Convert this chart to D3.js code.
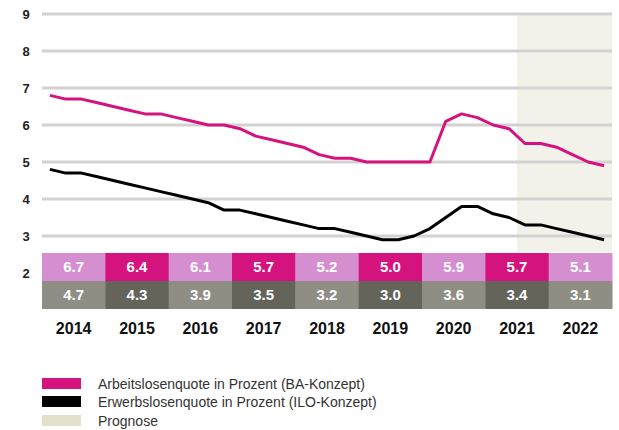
<!DOCTYPE html>
<html><head><meta charset="utf-8">
<script src="https://cdn.jsdelivr.net/npm/d3@7"></script>
<style>body{margin:0;background:#fff}svg{display:block;font-family:"Liberation Sans",Arial,sans-serif}</style>
</head><body><svg id="c" width="619" height="430"></svg>
<script>
const years = ["2014","2015","2016","2017","2018","2019","2020","2021","2022"];
const baAnnual  = [6.7,6.4,6.1,5.7,5.2,5.0,5.9,5.7,5.1];
const iloAnnual = [4.7,4.3,3.9,3.5,3.2,3.0,3.6,3.4,3.1];
const baQuarterly = [6.8,6.7,6.7,6.6, 6.5,6.4,6.3,6.3, 6.2,6.1,6.0,6.0, 5.9,5.7,5.6,5.5,
  5.4,5.2,5.1,5.1, 5.0,5.0,5.0,5.0, 5.0,6.1,6.3,6.2, 6.0,5.9,5.5,5.5, 5.4,5.2,5.0,4.9];
const iloQuarterly = [4.8,4.7,4.7,4.6, 4.5,4.4,4.3,4.2, 4.1,4.0,3.9,3.7, 3.7,3.6,3.5,3.4,
  3.3,3.2,3.2,3.1, 3.0,2.9,2.9,3.0, 3.2,3.5,3.8,3.8, 3.6,3.5,3.3,3.3, 3.2,3.1,3.0,2.9];
const yTicks = [2,3,4,5,6,7,8,9];
const gridTicks = [3,4,5,6,7,8,9];
const forecastStart = 30; // quarter index where forecast shading begins (mid-2021)
const legendItems = [
  {label:"Arbeitslosenquote in Prozent (BA-Konzept)", color:"#d5137e"},
  {label:"Erwerbslosenquote in Prozent (ILO-Konzept)", color:"#000000"},
  {label:"Prognose", color:"#e3e0cb"}
];

const svg = d3.select("#c");
const L = 42, R = 612;
const xBand = d3.scaleBand().domain(years).range([L,R]).padding(0);
const xQ = d3.scaleLinear().domain([0, baQuarterly.length]).range([L,R]);
const y = d3.scaleLinear().domain([1,9]).range([310,14]);

// forecast shading
svg.append("rect")
  .attr("x", xQ(forecastStart)).attr("y", y(9)+1.5)
  .attr("width", R - xQ(forecastStart)).attr("height", 252 - (y(9)+1.5))
  .attr("fill", "#f3f2ea");

// gridlines
svg.append("g").selectAll("line").data(gridTicks).join("line")
  .attr("x1", L).attr("x2", R).attr("y1", d=>y(d)).attr("y2", d=>y(d))
  .attr("stroke", "#d2d2d2").attr("stroke-width", 3);

// y tick labels
svg.append("g").selectAll("text").data(yTicks).join("text")
  .attr("x", 26).attr("y", d=>y(d)).attr("dy","0.36em")
  .attr("text-anchor","middle").attr("font-weight","bold").attr("font-size",13)
  .attr("fill","#222").text(d=>d);

// lines
const line = d3.line().x((d,i)=>xQ(i+0.5)).y(d=>y(d));
svg.append("path").datum(iloQuarterly).attr("d", line)
  .attr("fill","none").attr("stroke","#000").attr("stroke-width",3).attr("stroke-linejoin","round");
svg.append("path").datum(baQuarterly).attr("d", line)
  .attr("fill","none").attr("stroke","#d5137e").attr("stroke-width",3).attr("stroke-linejoin","round");

// table
const rowTop = 253, rowMid = 281, rowBot = 309;
const g = svg.append("g");
years.forEach((yr,i)=>{
  const x0 = xBand(yr), w = xBand.bandwidth();
  g.append("rect").attr("x",x0).attr("y",rowTop).attr("width",w+0.5).attr("height",rowMid-rowTop)
    .attr("fill", i%2===0 ? "#d58fd1" : "#d5137e");
  g.append("rect").attr("x",x0).attr("y",rowMid).attr("width",w+0.5).attr("height",rowBot-rowMid)
    .attr("fill", i%2===0 ? "#8e8e84" : "#64645a");
  g.append("text").attr("x",x0+w/2).attr("y",(rowTop+rowMid)/2).attr("dy","0.36em")
    .attr("text-anchor","middle").attr("font-weight","bold").attr("font-size",15)
    .attr("fill","#fff").text(baAnnual[i].toFixed(1));
  g.append("text").attr("x",x0+w/2).attr("y",(rowMid+rowBot)/2).attr("dy","0.36em")
    .attr("text-anchor","middle").attr("font-weight","bold").attr("font-size",15)
    .attr("fill","#fff").text(iloAnnual[i].toFixed(1));
  g.append("text").attr("x",x0+w/2).attr("y",328).attr("dy","0.36em")
    .attr("text-anchor","middle").attr("font-weight","bold").attr("font-size",16)
    .attr("fill","#111").text(yr);
});

// legend
const lg = svg.append("g");
const ly = [378, 396, 415];
legendItems.forEach((d,i)=>{
  lg.append("rect").attr("x",42).attr("y",ly[i]).attr("width",39).attr("height",11).attr("fill",d.color);
  lg.append("text").attr("x",98).attr("y",ly[i]+5.5).attr("dy","0.36em")
    .attr("font-size",14).attr("fill","#333").text(d.label);
});
</script></body></html>
